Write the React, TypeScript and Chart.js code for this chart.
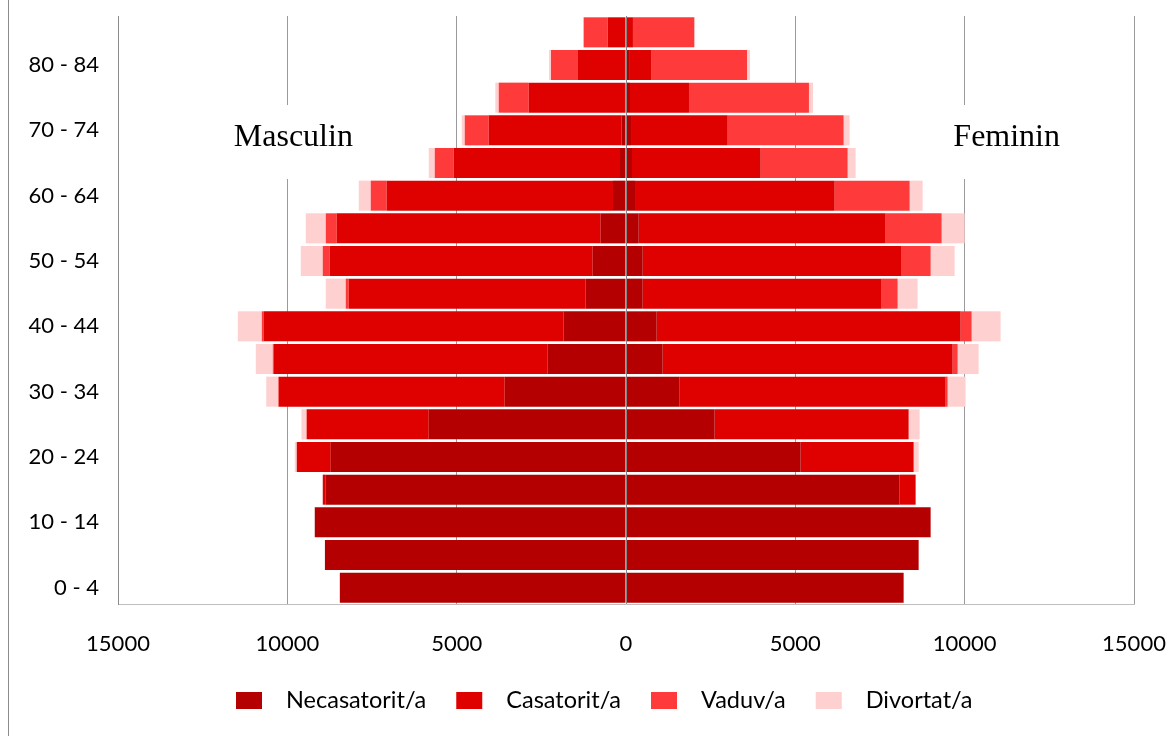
import React, { useEffect, useRef } from 'react';
import { Chart, registerables } from 'chart.js';

Chart.register(...registerables);

const ageGroups = ['0 - 4', '5 - 9', '10 - 14', '15 - 19', '20 - 24', '25 - 29', '30 - 34', '35 - 39', '40 - 44', '45 - 49', '50 - 54', '55 - 59', '60 - 64', '65 - 69', '70 - 74', '75 - 79', '80 - 84', '85 +'];

const seriesNames = ['Necasatorit/a', 'Casatorit/a', 'Vaduv/a', 'Divortat/a'];
const seriesColors = ['#B40000', '#DF0000', '#FF3A3A', '#FFD0D0'];

// Masculin (drawn to the left)
const maleNecasatorit = [8450, 8890, 9190, 8865, 8717, 5824, 3581, 2311, 1839, 1190, 983, 747, 384, 177, 127, 30, 30, 15];
const maleCasatorit = [0, 0, 0, 89, 1004, 3601, 6672, 8088, 8856, 6996, 7764, 7793, 6681, 4909, 3926, 2842, 1387, 525];
const maleVaduv = [0, 0, 0, 0, 0, 10, 15, 30, 59, 89, 207, 325, 472, 561, 708, 886, 797, 710];
const maleDivortat = [0, 0, 0, 0, 59, 148, 354, 502, 708, 590, 649, 590, 354, 177, 89, 100, 60, 10];

// Feminin (drawn to the right)
const femaleNecasatorit = [8198, 8641, 8995, 8080, 5157, 2618, 1585, 1083, 906, 493, 493, 375, 266, 177, 148, 118, 90, 15];
const femaleCasatorit = [0, 0, 0, 472, 3336, 5727, 7852, 8561, 8974, 7055, 7646, 7291, 5895, 3799, 2854, 1742, 650, 190];
const femaleVaduv = [0, 0, 0, 0, 0, 0, 59, 148, 325, 472, 856, 1653, 2214, 2568, 3424, 3542, 2834, 1810];
const femaleDivortat = [0, 0, 0, 0, 148, 325, 531, 620, 856, 590, 708, 679, 384, 236, 177, 118, 89, 20];

const xTicks = [-15000, -10000, -5000, 0, 5000, 10000, 15000];
const sideLabels = ['Masculin', 'Feminin'];

const maleSeries = [maleNecasatorit, maleCasatorit, maleVaduv, maleDivortat];
const femaleSeries = [femaleNecasatorit, femaleCasatorit, femaleVaduv, femaleDivortat];

const SANS = 'Lato, "Noto Sans", sans-serif';
const SERIF = '"Liberation Serif", "DejaVu Serif", serif';

export default function App() {
  const ref = useRef<HTMLCanvasElement>(null);

  useEffect(() => {
    document.body.style.margin = '0';
    document.body.style.overflow = 'hidden';
    const canvas = ref.current;
    if (!canvas) return;

    const datasets: any[] = [];
    seriesNames.forEach((name, i) => {
      datasets.push({
        label: name + ' (M)',
        data: maleSeries[i].map((v) => -v),
        backgroundColor: seriesColors[i],
        borderWidth: 0,
        stack: 'pyramid',
        barPercentage: 0.92,
        categoryPercentage: 1.0,
      });
    });
    seriesNames.forEach((name, i) => {
      datasets.push({
        label: name + ' (F)',
        data: femaleSeries[i],
        backgroundColor: seriesColors[i],
        borderWidth: 0,
        stack: 'pyramid',
        barPercentage: 0.92,
        categoryPercentage: 1.0,
      });
    });

    const framePlugin = {
      id: 'frame',
      afterDraw(chart: any) {
        const ctx = chart.ctx;
        ctx.save();
        ctx.strokeStyle = '#8c8c8c';
        ctx.lineWidth = 1;
        ctx.beginPath();
        ctx.moveTo(8.5, 0);
        ctx.lineTo(8.5, chart.height);
        ctx.stroke();
        ctx.restore();
      },
    };

    const sideLabelPlugin = {
      id: 'sideLabels',
      beforeDatasetsDraw(chart: any) {
        const ctx = chart.ctx;
        const x = chart.scales.x;
        ctx.save();
        ctx.font = '32px ' + SERIF;
        ctx.textBaseline = 'alphabetic';
        ctx.textAlign = 'center';
        const centers = [x.getPixelForValue(-10000) + 6, x.getPixelForValue(10000) + 42];
        sideLabels.forEach((t, i) => {
          const w = ctx.measureText(t).width;
          ctx.fillStyle = '#ffffff';
          ctx.fillRect(centers[i] - w / 2 - 10, 105, w + 20, 74);
          ctx.fillStyle = '#000000';
          ctx.fillText(t, centers[i], 146);
        });
        ctx.restore();
      },
    };

    const zeroLinePlugin = {
      id: 'zeroLine',
      afterDatasetsDraw(chart: any) {
        const ctx = chart.ctx;
        const px = Math.round(chart.scales.x.getPixelForValue(0)) + 0.5;
        ctx.save();
        ctx.strokeStyle = '#868686';
        ctx.lineWidth = 1;
        ctx.beginPath();
        ctx.moveTo(px, chart.chartArea.top);
        ctx.lineTo(px, chart.chartArea.bottom);
        ctx.stroke();
        ctx.restore();
      },
    };

    const legendPlugin = {
      id: 'customLegend',
      afterDraw(chart: any) {
        const ctx = chart.ctx;
        ctx.save();
        ctx.font = '23.5px ' + SANS;
        ctx.textBaseline = 'middle';
        ctx.textAlign = 'left';
        let x = 236;
        const boxW = 26;
        const boxH = 17;
        const cy = 700;
        seriesNames.forEach((name, i) => {
          ctx.fillStyle = seriesColors[i];
          ctx.fillRect(x, cy - 8, boxW, boxH);
          ctx.fillStyle = '#000000';
          const tx = x + boxW + 24;
          ctx.fillText(name, tx, cy);
          x = tx + ctx.measureText(name).width + 30;
        });
        ctx.restore();
      },
    };

    const chart = new Chart(canvas, {
      type: 'bar',
      data: { labels: ageGroups, datasets },
      options: {
        indexAxis: 'y',
        animation: false,
        responsive: false,
        maintainAspectRatio: false,
        layout: { padding: { top: 16, right: 39, left: 0, bottom: 0 } },
        plugins: {
          legend: { display: false },
          tooltip: { enabled: false },
        },
        scales: {
          x: {
            type: 'linear',
            stacked: true,
            min: -15000,
            max: 15000,
            afterBuildTicks(scale: any) {
              scale.ticks = xTicks.map((v) => ({ value: v }));
            },
            afterFit(scale: any) {
              scale.height = 132;
              scale.paddingLeft = 0;
              scale.paddingRight = 0;
            },
            grid: { color: '#9a9a9a', lineWidth: 1, drawTicks: false },
            border: { display: true, color: '#bfbfbf' },
            ticks: {
              padding: 27,
              color: '#000000',
              font: { family: SANS, size: 22 },
              maxRotation: 0,
              callback: (v: any) => String(Math.abs(Number(v))),
            },
          },
          y: {
            type: 'category',
            stacked: true,
            reverse: true,
            afterFit(scale: any) {
              scale.width = 118;
              scale.paddingTop = 0;
              scale.paddingBottom = 0;
            },
            grid: { display: false, drawTicks: false },
            border: { display: true, color: '#8c8c8c' },
            ticks: {
              autoSkip: false,
              padding: 19,
              color: '#000000',
              font: { family: SANS, size: 22 },
              callback: (_v: any, i: number) => (i % 2 === 0 ? ageGroups[i] : ''),
            },
          },
        },
      },
      plugins: [sideLabelPlugin, zeroLinePlugin, legendPlugin, framePlugin],
    });

    return () => chart.destroy();
  }, []);

  return (
    <div style={{ width: 1173, height: 736, position: 'relative', background: '#fff' }}>
      <canvas ref={ref} width={1173} height={736} style={{ display: 'block' }} />
    </div>
  );
}
